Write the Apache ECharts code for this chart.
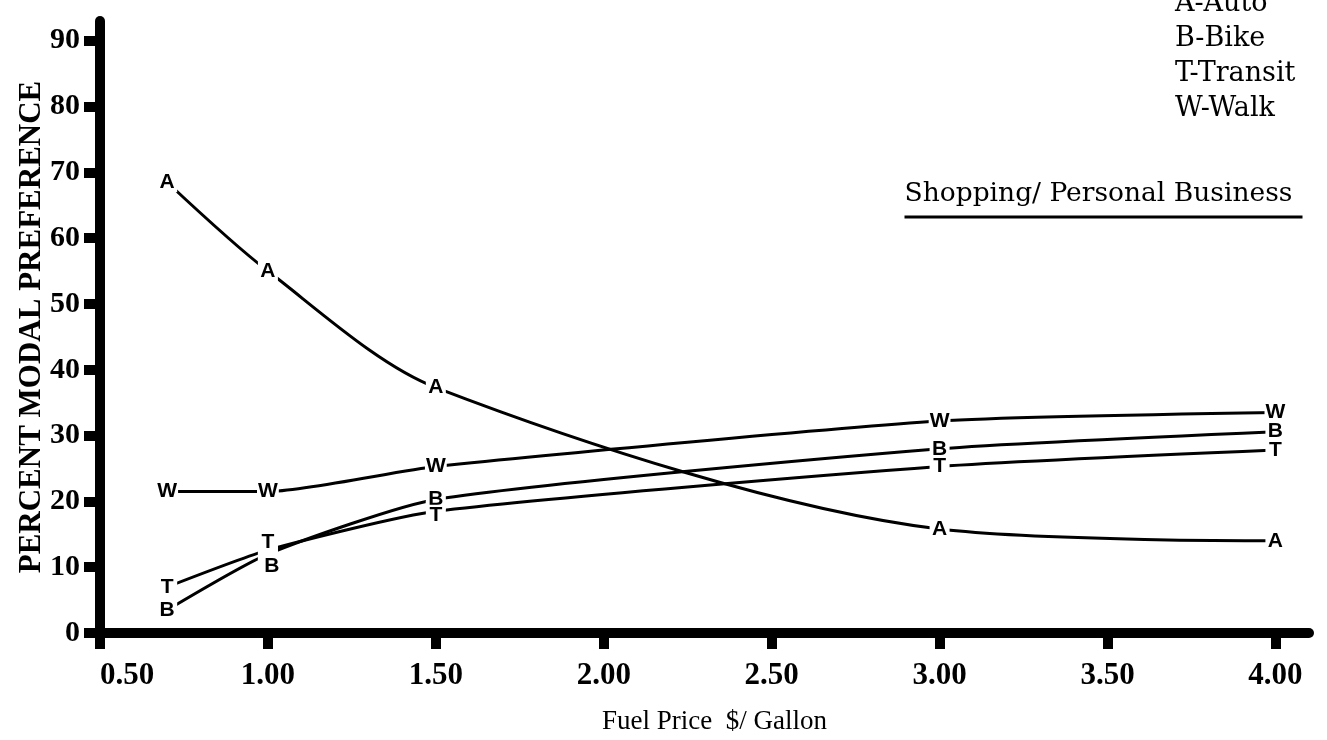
<!DOCTYPE html>
<html>
<head>
<meta charset="utf-8">
<script src="https://cdn.jsdelivr.net/npm/echarts@6/dist/echarts.min.js"></script>
<style>
  html, body { margin: 0; padding: 0; background: #fff; }
  #main { width: 1327px; height: 740px; }
</style>
</head>
<body>
<div id="main"></div>
<script type="text/javascript">
    // data
    var fuelPrice = [0.70, 1.00, 1.50, 3.00, 4.00];
    var auto      = [68.5, 55.0, 37.3, 15.8, 14.0];
    var bike      = [3.5, 12.0, 20.3, 28.0, 30.6];
    var transit   = [7.0, 12.6, 18.5, 25.3, 27.8];
    var walk      = [21.5, 21.5, 25.3, 32.2, 33.5];

    var xTicks = [0.5, 1.0, 1.5, 2.0, 2.5, 3.0, 3.5, 4.0];
    var yTicks = [0, 10, 20, 30, 40, 50, 60, 70, 80, 90];

    var modes = [
        { letter: 'A', name: 'Auto', values: auto, smooth: 0.3 },
        { letter: 'B', name: 'Bike', values: bike, smooth: 0.2 },
        { letter: 'T', name: 'Transit', values: transit, smooth: 0.2 },
        { letter: 'W', name: 'Walk', values: walk, smooth: 0.2 }
    ];

    // small nudges so the stacked letters don't sit on each other
    var labelNudge = { B: { 1: [4, 12] }, T: { 1: [0, -8], 2: [0, 4] } };

    var ink = '#000';
    var serif = '"Liberation Serif", "DejaVu Serif", serif';

    var series = [];
    modes.forEach(function (m) {
        var pts = fuelPrice.map(function (x, i) { return [x, m.values[i]]; });
        series.push({
            name: m.name,
            type: 'line',
            data: pts,
            smooth: m.smooth,
            symbol: 'none',
            lineStyle: { color: ink, width: 3 },
            z: 2
        });
        series.push({
            name: m.name + ' marks',
            type: 'scatter',
            data: pts.map(function (p, i) {
                var item = { value: p };
                var nudge = labelNudge[m.letter] && labelNudge[m.letter][i];
                if (nudge) item.label = { offset: nudge };
                return item;
            }),
            symbol: 'rect',
            symbolSize: [20, 20],
            itemStyle: { color: '#fff', opacity: 1 },
            label: {
                show: true,
                position: 'inside',
                formatter: m.letter,
                color: ink,
                fontFamily: '"Liberation Sans", Arial, sans-serif',
                fontWeight: 'bold',
                fontSize: 21,
                backgroundColor: '#fff',
                padding: [0, 1]
            },
            z: 5
        });
    });

    var myChart = echarts.init(document.getElementById('main'));

    var option = {
        backgroundColor: '#fff',
        animation: false,
        grid: { left: 100, right: 18, top: 21, bottom: 105 },
        xAxis: {
            type: 'value',
            min: 0.5,
            max: 4.1,
            name: 'Fuel Price  $/ Gallon',
            nameLocation: 'middle',
            nameGap: 75,
            nameTextStyle: { color: ink, fontFamily: serif, fontSize: 27, padding: [0, 0, 0, 20] },
            axisLine: { lineStyle: { color: ink, width: 10 } },
            axisTick: { customValues: xTicks, length: 16, lineStyle: { color: ink, width: 10 } },
            axisLabel: {
                customValues: xTicks,
                alignMinLabel: 'left',
                margin: 27,
                color: ink,
                fontFamily: serif,
                fontWeight: 'bold',
                fontSize: 31,
                formatter: function (v) { return v.toFixed(2); }
            },
            splitLine: { show: false }
        },
        yAxis: {
            type: 'value',
            min: 0,
            max: 93,
            name: 'PERCENT MODAL PREFERENCE',
            nameLocation: 'middle',
            nameRotate: 90,
            nameGap: 53,
            nameMoveOverlap: false,
            nameTextStyle: { color: ink, fontFamily: serif, fontWeight: 'bold', fontSize: 31 },
            axisLine: { lineStyle: { color: ink, width: 10 } },
            axisTick: { customValues: yTicks, length: 16, lineStyle: { color: ink, width: 10 } },
            axisLabel: {
                customValues: yTicks,
                margin: 20,
                color: ink,
                fontFamily: serif,
                fontWeight: 'bold',
                fontSize: 30
            },
            splitLine: { show: false }
        },
        graphic: [
            {
                type: 'text',
                left: 1175,
                top: -14,
                style: {
                    text: 'A-Auto\nB-Bike\nT-Transit\nW-Walk',
                    fill: ink,
                    font: '27px "DejaVu Serif", serif',
                    lineHeight: 35
                }
            },
            {
                type: 'group',
                left: 902,
                top: 181,
                children: [
                    {
                        type: 'text',
                        style: {
                            text: 'Shopping/ Personal Business',
                            fill: ink,
                            font: '26.5px "DejaVu Serif", serif'
                        }
                    },
                    {
                        type: 'line',
                        shape: { x1: 0, y1: 36, x2: 398, y2: 36 },
                        style: { stroke: ink, lineWidth: 3 }
                    }
                ]
            }
        ],
        series: series
    };

    myChart.setOption(option);
</script>
</body>
</html>
